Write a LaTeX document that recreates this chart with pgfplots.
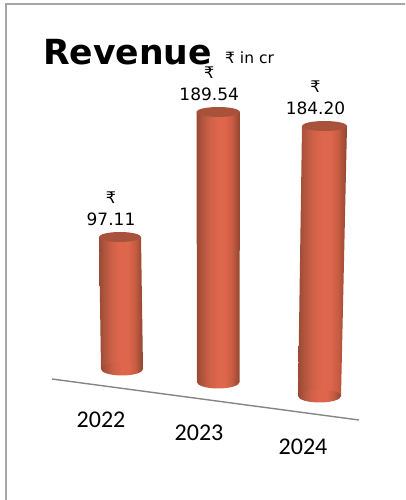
\documentclass[border=0pt]{standalone}
\usepackage{fontspec}
\usepackage{pgfplots}
\pgfplotsset{compat=1.18}
\setmainfont{DejaVu Sans}
\newfontfamily\yearfont{Carlito}

\definecolor{capcol}{HTML}{A9523B}
\definecolor{framecol}{HTML}{A6A6A6}
\definecolor{linecol}{HTML}{858585}
\pgfdeclarehorizontalshading{cyl}{100bp}{
  rgb(0bp)=(0.60,0.29,0.20);
  rgb(25bp)=(0.60,0.29,0.20);
  rgb(31bp)=(0.69,0.33,0.24);
  rgb(40bp)=(0.81,0.38,0.28);
  rgb(49bp)=(0.87,0.40,0.30);
  rgb(58bp)=(0.87,0.40,0.30);
  rgb(66bp)=(0.78,0.36,0.26);
  rgb(75bp)=(0.56,0.27,0.18);
  rgb(100bp)=(0.56,0.27,0.18)}

% end faces of the cylinders, half width = mark size
\pgfdeclareplotmark{topcap}{\path[draw=none, fill=capcol] (0,0) ellipse [x radius=\pgfplotmarksize, y radius=5pt];}
\pgfdeclareplotmark{basecap}{\path[draw=none, shading=cyl] (0,0) ellipse [x radius=\pgfplotmarksize, y radius=6.5pt];}

\pgfplotsset{
  cyl/.style={hide axis, scale only axis, clip=false, anchor=south west,
    width=405pt, xmin=0, xmax=405, ymin=0,
    /pgf/number format/assume math mode=true},
  vlabel/.style={only marks, mark=topcap, mark size=#1,
    point meta=y,
    nodes near coords={\fontsize{16}{22}\selectfont ₹\\\fontsize{17}{22}\selectfont\pgfmathprintnumber[fixed,fixed zerofill,precision=2,assume math mode=true]{\pgfplotspointmeta}},
    every node near coord/.style={anchor=center, align=center, inner sep=0pt, xshift=-9pt, yshift=28pt,
      font=\fontsize{17}{22}\selectfont}},
}

\begin{document}
\begin{tikzpicture}
\clip (0,0) rectangle (405pt,500pt);
% picture frame
\draw[framecol, line width=1.6pt] (6pt,-5pt) -- (6pt,496pt) -- (410pt,496pt);

% 2022
\begin{axis}[cyl, at={(0pt,131pt)}, height=132pt, ymax=97.11]
  \addplot[only marks, mark=basecap, mark size=21pt] coordinates {(122,0)};
  \addplot[draw=none, shading=cyl, mark=none] coordinates {(101,0)(143,0)(141,97.11)(99,97.11)} -- cycle;
  \addplot[vlabel=21pt] coordinates {(120,97.11)};
\end{axis}
% 2023
\begin{axis}[cyl, at={(0pt,118pt)}, height=270pt, ymax=189.54]
  \addplot[only marks, mark=basecap, mark size=21.3pt] coordinates {(218.2,0)};
  \addplot[draw=none, shading=cyl, mark=none] coordinates {(197,0)(239.5,0)(240,189.54)(196.5,189.54)} -- cycle;
  \addplot[vlabel=21.8pt] coordinates {(218.2,189.54)};
\end{axis}
% 2024
\begin{axis}[cyl, at={(0pt,104pt)}, height=270pt, ymax=184.20]
  \addplot[only marks, mark=basecap, mark size=21.5pt] coordinates {(319.5,0)};
  \addplot[draw=none, shading=cyl, mark=none] coordinates {(298,0)(341,0)(347,184.20)(302,184.20)} -- cycle;
  \addplot[vlabel=22.5pt] coordinates {(324.5,184.20)};
\end{axis}

% tilted category line, year labels and titles
\begin{axis}[hide axis, scale only axis, clip=false, anchor=south west, at={(0pt,0pt)},
    width=405pt, height=500pt, xmin=0, xmax=405, ymin=0, ymax=500, y dir=reverse]
  \addplot[linecol, line width=1.4pt, mark=none] coordinates {(52,379)(359,420)};
  \node[font=\yearfont\fontsize{24}{24}\selectfont] at (axis cs:101,420) {2022};
  \node[font=\yearfont\fontsize{24}{24}\selectfont] at (axis cs:199,433) {2023};
  \node[font=\yearfont\fontsize{24}{24}\selectfont] at (axis cs:303,447) {2024};
  \node[anchor=base west, inner sep=0pt, font=\bfseries\fontsize{34.6}{35}\selectfont] at (axis cs:43,64.5) {Revenue};
  \node[anchor=base west, inner sep=0pt, font=\fontsize{15.5}{16}\selectfont] at (axis cs:225,64) {₹ in cr};
\end{axis}
\end{tikzpicture}
\end{document}
